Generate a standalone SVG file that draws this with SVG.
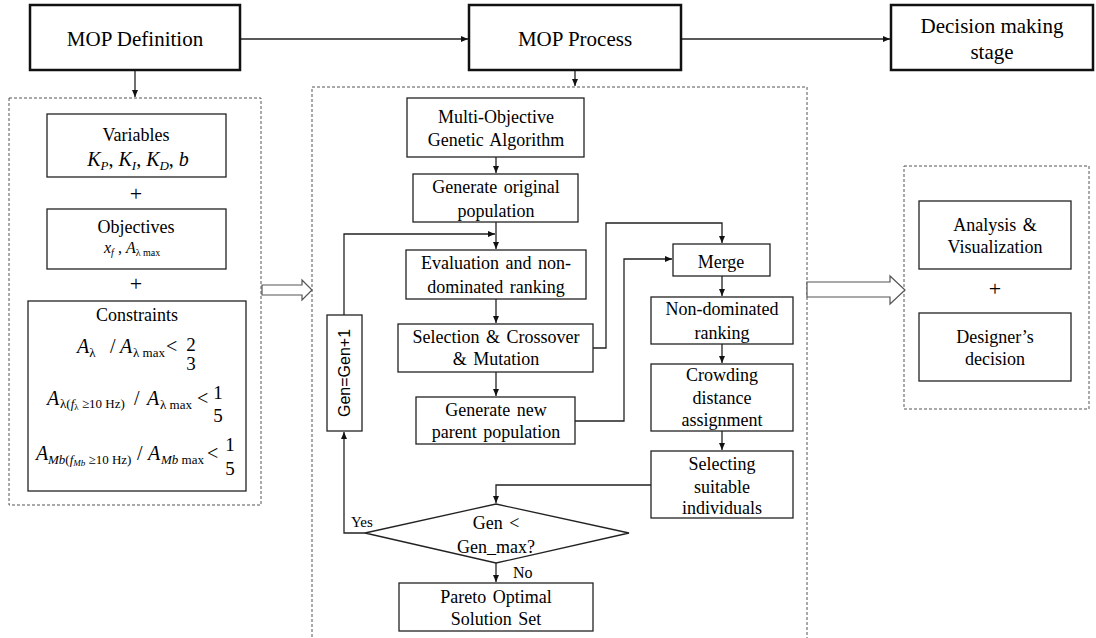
<svg xmlns="http://www.w3.org/2000/svg" width="1096" height="638" viewBox="0 0 1096 638" font-family="'Liberation Serif', 'Times New Roman', serif">
<defs>
<marker id="ah" markerWidth="8" markerHeight="8" refX="7" refY="4" orient="auto" markerUnits="userSpaceOnUse">
<path d="M0,1 L7,4 L0,7 Z" fill="#111"/>
</marker>
</defs>
<style>
.t{font-size:18px;text-anchor:middle;fill:#000;word-spacing:2px}
.big{font-size:21px;word-spacing:0}
.box{fill:#fff;stroke:#222;stroke-width:1.3}
.tbox{fill:#fff;stroke:#111;stroke-width:2.5}
.dash{fill:none;stroke:#555;stroke-width:1;stroke-dasharray:3,2}
.c{fill:none;stroke:#222;stroke-width:1.3}
.m{font-size:20px;fill:#000}
.i{font-style:italic}
.s{font-size:13px}
.ss{font-size:9px}
.hol{fill:#fff;stroke:#555;stroke-width:1.2}
.sans{font-family:'Liberation Sans',Arial,sans-serif}
</style>
<rect width="1096" height="638" fill="#fff"/>

<g id="container-left"><rect class="dash" x="9" y="98" width="252" height="407"/></g>
<g id="container-mid"><rect class="dash" x="312" y="87" width="495" height="560"/></g>
<g id="container-right"><rect class="dash" x="904" y="166" width="185" height="243"/></g>

<g id="connectors">
<path class="c" d="M240,39 H468" marker-end="url(#ah)"/>
<path class="c" d="M681,39 H890" marker-end="url(#ah)"/>
<path class="c" d="M135,70 V97" marker-end="url(#ah)"/>
<path class="c" d="M575,70 V86" marker-end="url(#ah)"/>
<path class="c" d="M496,157 V173" marker-end="url(#ah)"/>
<path class="c" d="M496,222 V249" marker-end="url(#ah)"/>
<path class="c" d="M344,315 V234 H495" marker-end="url(#ah)"/>
<path class="c" d="M496,299 V323" marker-end="url(#ah)"/>
<path class="c" d="M593,348 H606 V223 H722 V243" marker-end="url(#ah)"/>
<path class="c" d="M496,372 V396" marker-end="url(#ah)"/>
<path class="c" d="M575,421 H624 V259 H672" marker-end="url(#ah)"/>
<path class="c" d="M722,276 V296" marker-end="url(#ah)"/>
<path class="c" d="M722,344 V363" marker-end="url(#ah)"/>
<path class="c" d="M722,431 V450" marker-end="url(#ah)"/>
<path class="c" d="M651,485 H496 V503" marker-end="url(#ah)"/>
<path class="c" d="M365,533 H344 V432" marker-end="url(#ah)"/>
<path class="c" d="M496,563 V582" marker-end="url(#ah)"/>
<polygon class="hol" points="262,285 302,285 302,280 312,290 302,300 302,295 262,295"/>
<polygon class="hol" points="807,282 890,282 890,276 905,290 890,304 890,297 807,297"/>
<text class="t" x="351" y="527" style="text-anchor:start;font-size:15px">Yes</text>
<text class="t" x="513" y="578" style="text-anchor:start;font-size:16px">No</text>
</g>

<g id="mop-definition"><rect class="tbox" x="30" y="5" width="210" height="65"/><text class="t big" x="135" y="46">MOP Definition</text></g>
<g id="mop-process"><rect class="tbox" x="469" y="5" width="212" height="65"/><text class="t big" x="575" y="46">MOP Process</text></g>
<g id="decision-stage"><rect class="tbox" x="891" y="5" width="202" height="65"/><text class="t big" x="992" y="33">Decision making</text><text class="t big" x="992" y="59">stage</text></g>

<g id="variables"><rect class="box" x="47" y="114" width="179" height="63"/>
<text class="t" x="136" y="141">Variables</text>
<text class="m" x="138" y="166" text-anchor="middle"><tspan class="i">K</tspan><tspan class="s i" dy="4">P</tspan><tspan dy="-4">, </tspan><tspan class="i">K</tspan><tspan class="s i" dy="4">I</tspan><tspan dy="-4">, </tspan><tspan class="i">K</tspan><tspan class="s i" dy="4">D</tspan><tspan dy="-4">, </tspan><tspan class="i">b</tspan></text>
</g>
<g id="plus-1"><text class="t" x="136" y="201" style="font-size:22px">+</text></g>
<g id="objectives"><rect class="box" x="47" y="209" width="179" height="60"/>
<text class="t" x="136" y="233">Objectives</text>
<text class="m" y="253" style="font-size:16px"><tspan x="104" class="i">x</tspan><tspan class="i" style="font-size:10px" dy="3">f</tspan><tspan dy="-3"> , </tspan><tspan class="i">A</tspan><tspan style="font-size:10px" dy="3">λ max</tspan></text>
</g>
<g id="plus-2"><text class="t" x="136" y="291" style="font-size:22px">+</text></g>
<g id="constraints"><rect class="box" x="28" y="301" width="218" height="190"/>
<text class="t" x="137" y="321">Constraints</text>
<text class="m" y="353"><tspan x="77" class="i">A</tspan><tspan class="s" dy="4">λ</tspan><tspan x="110" dy="-4">/</tspan><tspan x="120" class="i">A</tspan><tspan x="133" class="s" dy="4">λ max</tspan><tspan x="166" dy="-4">&lt;</tspan></text>
<text class="m" x="191" y="351" text-anchor="middle" style="font-size:19px">2</text>
<text class="m" x="191" y="370" text-anchor="middle" style="font-size:19px">3</text>
<text class="m" y="405"><tspan x="47" class="i">A</tspan><tspan x="60" class="s" dy="3">λ(</tspan><tspan class="s i">f</tspan><tspan class="ss" dy="2">λ</tspan><tspan class="s" dy="-2"> ≥10 Hz)</tspan><tspan x="134" dy="-3">/</tspan><tspan x="147" class="i">A</tspan><tspan x="160" class="s" dy="4">λ max</tspan><tspan x="197" dy="-4">&lt;</tspan></text>
<text class="m" x="218" y="399" text-anchor="middle" style="font-size:19px">1</text>
<text class="m" x="218" y="422" text-anchor="middle" style="font-size:19px">5</text>
<text class="m" y="460"><tspan x="36" class="i">A</tspan><tspan x="48" class="s i" dy="4">Mb</tspan><tspan class="s">(</tspan><tspan class="s i">f</tspan><tspan class="ss i" dy="2">Mb</tspan><tspan class="s" dy="-2"> ≥10 Hz)</tspan><tspan x="137" dy="-4">/</tspan><tspan x="148" class="i">A</tspan><tspan x="161" class="s i" dy="4">Mb</tspan><tspan class="s"> max</tspan><tspan x="207" dy="-4">&lt;</tspan></text>
<text class="m" x="230" y="451" text-anchor="middle" style="font-size:19px">1</text>
<text class="m" x="230" y="475" text-anchor="middle" style="font-size:19px">5</text>
</g>

<g id="moga"><rect class="box" x="407" y="98" width="177" height="59"/><text class="t" x="496" y="123">Multi-Objective</text><text class="t" x="496" y="146">Genetic Algorithm</text></g>
<g id="gen-original"><rect class="box" x="413" y="174" width="165" height="48"/><text class="t" x="496" y="193">Generate original</text><text class="t" x="496" y="217">population</text></g>
<g id="evaluation"><rect class="box" x="406" y="250" width="180" height="49"/><text class="t" x="496" y="269">Evaluation and non-</text><text class="t" x="496" y="293">dominated ranking</text></g>
<g id="selection"><rect class="box" x="398" y="324" width="195" height="48"/><text class="t" x="496" y="343">Selection &amp; Crossover</text><text class="t" x="496" y="365">&amp; Mutation</text></g>
<g id="gen-new"><rect class="box" x="416" y="397" width="159" height="47"/><text class="t" x="496" y="416">Generate new</text><text class="t" x="496" y="438">parent population</text></g>
<g id="gen-inc"><rect class="box" x="327" y="315" width="35" height="116"/><text class="t sans" x="0" y="0" transform="translate(350,373) rotate(-90)" style="font-size:16px">Gen=Gen+1</text></g>
<g id="decision"><polygon class="box" points="496,504 629,533 496,563 365,533"/><text class="t" x="496" y="529">Gen &lt;</text><text class="t" x="496" y="553">Gen_max?</text></g>
<g id="pareto"><rect class="box" x="399" y="583" width="194" height="48"/><text class="t" x="496" y="603">Pareto Optimal</text><text class="t" x="496" y="625">Solution Set</text></g>

<g id="merge"><rect class="box" x="673" y="244" width="97" height="32"/><text class="t" x="721" y="268">Merge</text></g>
<g id="nd-ranking"><rect class="box" x="651" y="297" width="142" height="47"/><text class="t" x="722" y="315">Non-dominated</text><text class="t" x="722" y="339">ranking</text></g>
<g id="crowding"><rect class="box" x="651" y="364" width="142" height="67"/><text class="t" x="722" y="381">Crowding</text><text class="t" x="722" y="404">distance</text><text class="t" x="722" y="426">assignment</text></g>
<g id="selecting"><rect class="box" x="651" y="451" width="142" height="67"/><text class="t" x="722" y="470">Selecting</text><text class="t" x="722" y="493">suitable</text><text class="t" x="722" y="514">individuals</text></g>

<g id="analysis"><rect class="box" x="919" y="201" width="152" height="68"/><text class="t" x="995" y="231">Analysis  &amp;</text><text class="t" x="995" y="253">Visualization</text></g>
<g id="plus-3"><text class="t" x="995" y="296" style="font-size:22px">+</text></g>
<g id="designer"><rect class="box" x="919" y="313" width="152" height="68"/><text class="t" x="995" y="343">Designer’s</text><text class="t" x="995" y="365">decision</text></g>
</svg>
